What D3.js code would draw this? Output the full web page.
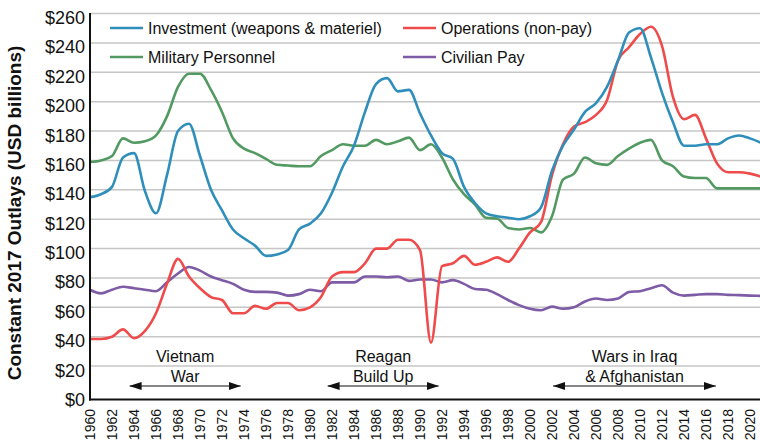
<!DOCTYPE html>
<html>
<head>
<meta charset="utf-8">
<script src="https://cdn.jsdelivr.net/npm/d3@7"></script>
<style>
  body { margin: 0; background: white; }
  svg { font-family: "Liberation Sans", Arial, Helvetica, sans-serif; }
</style>
</head>
<body>
<div id="chart"></div>
<script>
// Years 1960..2021
const years = d3.range(1960, 2022);

// Outlays in constant 2017 USD billions
const investment = [135, 137, 142, 162, 165, 139, 124, 150, 180, 185, 163, 140, 126, 113, 107, 102,
  95, 96, 99, 113, 117, 124, 138, 156, 170, 193, 212, 216, 207, 208, 192, 177, 165, 161, 142, 131,
  124, 122, 121, 120, 122, 128, 153, 170, 181, 193, 199, 210, 228, 247, 250, 230, 206, 186, 170, 170,
  171, 171, 175, 177, 175, 172];
const operations = [38.5, 38.5, 40, 45, 39, 44, 56, 76, 93, 81, 73, 67, 65, 56, 56, 61,
  59, 63, 63, 58, 60, 67, 81, 84, 84, 90, 100, 100, 106, 106, 99, 36, 88, 90, 95, 89,
  91, 94, 91, 100, 111, 118, 150, 171, 183, 186, 191, 201, 228, 237, 246, 251, 238, 203, 188, 191,
  175, 158, 152, 152, 151, 149];
const military = [159, 160, 163, 175, 172, 173, 177, 190, 210, 219, 219, 208, 193, 175, 168, 165,
  161, 157, 156.5, 156, 156, 163, 167, 171, 170, 170, 174, 171, 173, 175.5, 167, 171, 162, 147, 137, 130,
  121, 120.5, 114, 113, 114, 111, 122, 147, 151, 162, 158, 157, 163, 168, 172, 174, 160, 156, 149, 148,
  148, 141, 141, 141, 141, 141];
const civilian = [72, 69.5, 72, 74, 73, 72, 71, 77, 83, 87.5, 85, 81, 78.5, 76, 72, 70.5,
  70.5, 70, 68, 69, 72, 71, 77, 77, 77, 81, 81, 80.5, 81, 78, 79, 79, 77, 78.5, 76, 72.5,
  72, 69, 65, 61.5, 59, 58, 60.5, 59, 60, 64, 66, 65, 66, 70.5, 71, 73, 75, 70, 68, 68.5,
  69, 69, 68.5, 68.3, 68, 67.8];

const seriesNames = ["Investment (weapons & materiel)", "Operations (non-pay)", "Military Personnel", "Civilian Pay"];
const seriesColors = ["#2f8fba", "#ef4b4b", "#529a62", "#7e5ba5"];
const seriesValues = [investment, operations, military, civilian];

const yTicks = d3.range(0, 261, 20);
const xTicks = d3.range(1960, 2021, 2);

// Annotated periods
const periodLines = [["Vietnam", "War"], ["Reagan", "Build Up"], ["Wars in Iraq", "& Afghanistan"]];
const periodStart = [1963.6, 1981.6, 2002.1];
const periodEnd = [1973.7, 1991.7, 2016.9];

const width = 760;
const height = 447;

const svg = d3.select("#chart")
  .append("svg")
  .attr("width", width)
  .attr("height", height);

const x = d3.scaleLinear().domain([1960, 2021]).range([90, 761]);
const y = d3.scaleLinear().domain([0, 260]).range([395.5, 13.5]);

// Gridlines
svg.append("g")
  .selectAll("line")
  .data(yTicks.filter(d => d > 0))
  .enter()
  .append("line")
  .attr("x1", 90)
  .attr("x2", width)
  .attr("y1", d => y(d))
  .attr("y2", d => y(d))
  .attr("stroke", "#c6c6c6")
  .attr("stroke-width", 1.5);

// Y tick labels
svg.append("g")
  .selectAll("text")
  .data(yTicks)
  .enter()
  .append("text")
  .attr("x", 85)
  .attr("y", d => y(d) + 10.5)
  .attr("text-anchor", "end")
  .attr("font-size", 18)
  .attr("fill", "#111")
  .text(d => "$" + d);

// X tick labels (rotated)
svg.append("g")
  .selectAll("text")
  .data(xTicks)
  .enter()
  .append("text")
  .attr("transform", d => `translate(${x(d) + 5},409) rotate(-90)`)
  .attr("text-anchor", "end")
  .attr("font-size", 14)
  .attr("fill", "#111")
  .text(d => d);

// Y axis title
svg.append("text")
  .attr("transform", "translate(21,213) rotate(-90)")
  .attr("text-anchor", "middle")
  .attr("font-size", 19)
  .attr("font-weight", "bold")
  .attr("fill", "#111")
  .text("Constant 2017 Outlays (USD billions)");

// Lines
const line = d3.line()
  .x((d, i) => x(years[i]))
  .y(d => y(d))
  .curve(d3.curveMonotoneX);

const drawOrder = [3, 2, 1, 0];
svg.append("g")
  .selectAll("path")
  .data(drawOrder)
  .enter()
  .append("path")
  .attr("d", k => line(seriesValues[k]))
  .attr("fill", "none")
  .attr("stroke", k => seriesColors[k])
  .attr("stroke-width", 2.6)
  .attr("stroke-linejoin", "round");

// Axis lines
svg.append("line")
  .attr("x1", 90).attr("x2", 90)
  .attr("y1", 13).attr("y2", 400.5)
  .attr("stroke", "#111").attr("stroke-width", 2);
svg.append("line")
  .attr("x1", 89).attr("x2", width)
  .attr("y1", 399.5).attr("y2", 399.5)
  .attr("stroke", "#111").attr("stroke-width", 2);

// Legend
const legendX = [110, 403];
const legendY = [28, 57];
seriesNames.forEach((name, i) => {
  const lx = legendX[i % 2];
  const ly = legendY[Math.floor(i / 2)];
  svg.append("line")
    .attr("x1", lx).attr("x2", lx + 33)
    .attr("y1", ly).attr("y2", ly)
    .attr("stroke", seriesColors[i])
    .attr("stroke-width", 2.6);
  svg.append("text")
    .attr("x", lx + 38)
    .attr("y", ly + 6)
    .attr("font-size", 16)
    .attr("fill", "#111")
    .text(name);
});

// Period annotations
const defs = svg.append("defs");
defs.append("marker")
  .attr("id", "arrow")
  .attr("viewBox", "0 0 12 8")
  .attr("refX", 12)
  .attr("refY", 4)
  .attr("markerWidth", 12)
  .attr("markerHeight", 8)
  .attr("markerUnits", "userSpaceOnUse")
  .attr("orient", "auto-start-reverse")
  .append("path")
  .attr("d", "M0,0L12,4L0,8Z")
  .attr("fill", "#111");

periodLines.forEach((lines, i) => {
  const cx = (x(periodStart[i]) + x(periodEnd[i])) / 2;
  lines.forEach((t, j) => {
    svg.append("text")
      .attr("x", cx)
      .attr("y", 362 + j * 20)
      .attr("text-anchor", "middle")
      .attr("font-size", 16)
      .attr("fill", "#111")
      .text(t);
  });
  svg.append("line")
    .attr("x1", x(periodStart[i]))
    .attr("x2", x(periodEnd[i]))
    .attr("y1", 386)
    .attr("y2", 386)
    .attr("stroke", "#111")
    .attr("stroke-width", 1.2)
    .attr("marker-start", "url(#arrow)")
    .attr("marker-end", "url(#arrow)");
});
</script>
</body>
</html>
